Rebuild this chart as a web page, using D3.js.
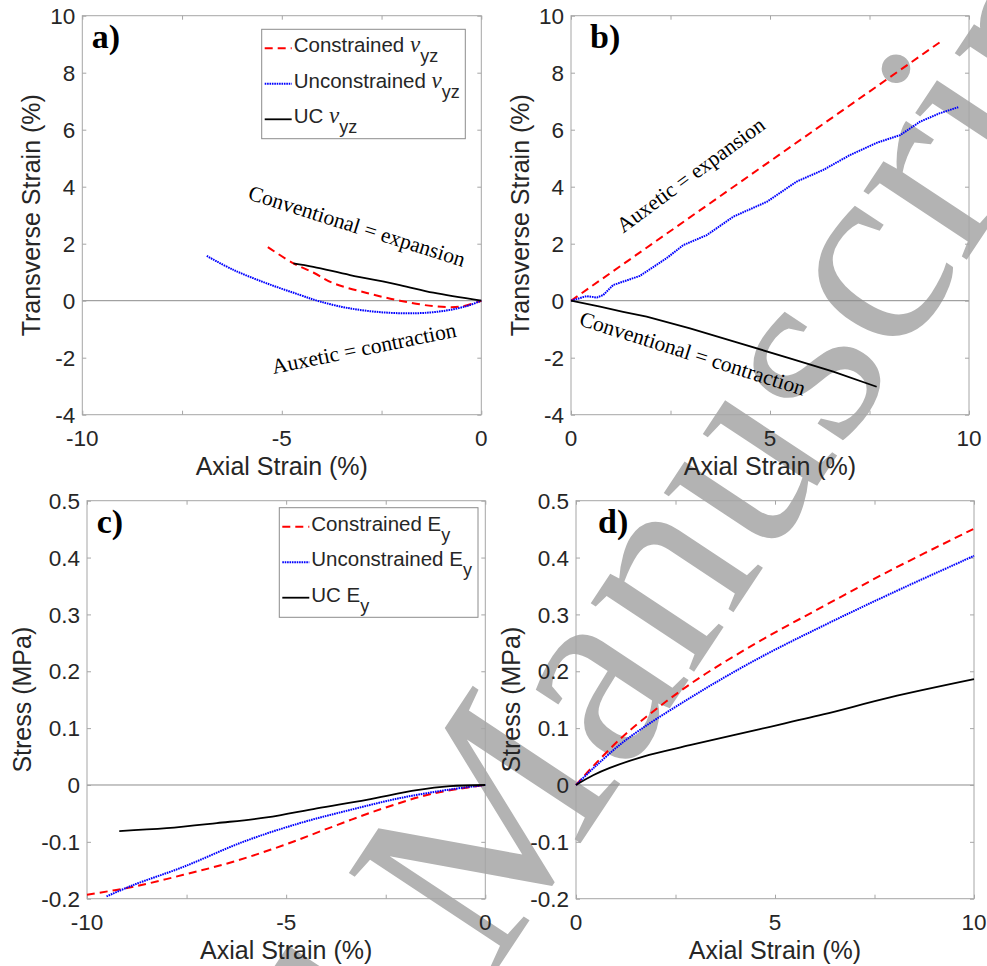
<!DOCTYPE html>
<html>
<head>
<meta charset="utf-8">
<script src="https://cdn.jsdelivr.net/npm/d3@7"></script>
<style>
body { margin: 0; background: #fff; }
svg { display: block; }
</style>
</head>
<body>
<svg id="fig" width="987" height="966"></svg>
<script>
// ---- data: [axial strain %, transverse strain % or stress MPa]
var nuCompCon = [[-5.35,1.88],[-4.72,1.32],[-4.2,0.98],[-3.72,0.62],[-2.87,0.27],[-2.04,0.0],[-1.2,-0.19],[-0.53,-0.21],[0,0]];
var nuCompUnc = [[-6.88,1.57],[-6.21,1.08],[-5.38,0.61],[-4.54,0.2],[-4.04,-0.03],[-3.29,-0.27],[-2.46,-0.41],[-1.62,-0.44],[-0.95,-0.36],[-0.37,-0.19],[0,0]];
var nuCompUC  = [[-4.71,1.31],[-4.21,1.19],[-3.29,0.9],[-2.04,0.55],[-1.2,0.28],[0,0]];

var nuTensCon = [[0,0],[9.35,9.15]];
var nuTensUnc = [[0,0],[0.39,0.16],[0.65,0.11],[0.81,0.2],[1.06,0.55],[1.73,0.87],[2.4,1.49],[2.82,1.95],[3.41,2.3],[4.08,2.95],[4.92,3.47],[5.67,4.18],[6.34,4.59],[7.01,5.11],[7.68,5.54],[8.27,5.81],[8.77,6.28],[9.27,6.58],[9.73,6.79]];
var nuTensUC  = [[0,0],[0.73,-0.21],[1.31,-0.39],[1.9,-0.56],[2.99,-0.97],[4.25,-1.5],[5.5,-2.02],[6.59,-2.49],[7.68,-3.02]];

var eCompCon = [[-10,-0.193],[-8.84,-0.179],[-7.58,-0.158],[-6.33,-0.135],[-5.07,-0.106],[-3.82,-0.073],[-2.56,-0.041],[-1.31,-0.015],[0,0]];
var eCompUnc = [[-9.51,-0.196],[-8.84,-0.176],[-7.58,-0.144],[-6.08,-0.1],[-4.65,-0.067],[-3.4,-0.044],[-2.14,-0.023],[-0.89,-0.008],[0,0]];
var eCompUC  = [[-9.19,-0.081],[-8.0,-0.076],[-6.74,-0.067],[-5.49,-0.057],[-4.23,-0.041],[-2.98,-0.026],[-1.72,-0.009],[-0.89,-0.002],[0,0]];

var eTensCon = [[0,0],[0.43,0.033],[1.27,0.091],[2.86,0.177],[4.54,0.25],[6.21,0.314],[7.89,0.377],[9.98,0.45]];
var eTensUnc = [[0,0],[0.43,0.029],[1.27,0.08],[2.86,0.153],[4.54,0.221],[6.21,0.28],[7.89,0.336],[10,0.403]];
var eTensUC  = [[0,0],[0.43,0.017],[0.85,0.03],[1.69,0.05],[2.86,0.07],[4.54,0.097],[6.21,0.124],[7.89,0.154],[10,0.186]];

var xTicksNeg = [-10, -7.5, -5, -2.5, 0];
var xTicksPos = [0, 2.5, 5, 7.5, 10];
var xLabelsNeg = [-10, -5, 0];
var xLabelsPos = [0, 5, 10];
var yTicksNu = [-4, -2, 0, 2, 4, 6, 8, 10];
var yTicksE = [-0.2, -0.1, 0, 0.1, 0.2, 0.3, 0.4, 0.5];

var seriesNames = ["Constrained", "Unconstrained", "UC"];

var FONT_SANS = "Arial, 'Liberation Sans', Helvetica, sans-serif";
var FONT_SERIF = "'Times New Roman', 'Liberation Serif', serif";
var TXT = "#262626";

var STYLES = [
    { color: "#ff0000", width: 2, dash: "8,5" },
    { color: "#0000ff", width: 2, dash: "1.6,0.8" },
    { color: "#000000", width: 1.8, dash: null }
];

var svg = d3.select("#fig");

function drawWatermark() {
    // big grey "Accepted Manuscript" stamp running up to the right
    var fs = 270;
    var g = svg.append("g")
        .attr("transform", "translate(492,977) rotate(-56.5)")
        .style("font-family", FONT_SERIF)
        .style("font-size", fs + "px")
        .attr("fill", "#b3b3b3");
    g.append("text").attr("x", 0).attr("y", 0).text("Manuscript");
    g.append("text").attr("x", -0.25 * fs).attr("y", 0)
        .attr("text-anchor", "end").text("Accepted");
}

function drawPanel(p) {
    var x = d3.scaleLinear().domain(p.xDomain).range([p.left, p.right]);
    var y = d3.scaleLinear().domain(p.yDomain).range([p.bottom, p.top]);
    var g = svg.append("g");

    // zero line
    g.append("line")
        .attr("x1", p.left).attr("x2", p.right)
        .attr("y1", y(0)).attr("y2", y(0))
        .attr("stroke", "#8c8c8c").attr("stroke-width", 1);

    // inward ticks on all four sides, matlab style box
    var tl = 4;
    var axes = [
        d3.axisBottom(x).tickValues(p.xTicks).tickSize(tl).tickFormat(""),
        d3.axisTop(x).tickValues(p.xTicks).tickSize(tl).tickFormat(""),
        d3.axisLeft(y).tickValues(p.yTicks).tickSize(tl).tickFormat(""),
        d3.axisRight(y).tickValues(p.yTicks).tickSize(tl).tickFormat("")
    ];
    var shifts = ["translate(0," + p.bottom + ")", "translate(0," + p.top + ")",
                  "translate(" + p.left + ",0)", "translate(" + p.right + ",0)"];
    var flips = [-1, 1, 1, -1];
    axes.forEach(function(ax, i) {
        var a = g.append("g").attr("transform", shifts[i]).call(ax);
        a.select(".domain").remove();
        a.selectAll(".tick line")
            .attr("stroke", "#a6a6a6")
            .attr(i < 2 ? "y2" : "x2", flips[i] * tl);
    });

    g.append("rect")
        .attr("x", p.left).attr("y", p.top)
        .attr("width", p.right - p.left).attr("height", p.bottom - p.top)
        .attr("fill", "none").attr("stroke", "#a6a6a6").attr("stroke-width", 1);

    // tick labels
    g.selectAll(".xl").data(p.xLabels).enter().append("text")
        .attr("x", function(d) { return x(d); })
        .attr("y", p.bottom + 31)
        .attr("text-anchor", "middle")
        .style("font", "22.5px " + FONT_SANS).attr("fill", TXT)
        .text(function(d) { return d; });
    g.selectAll(".yl").data(p.yTicks).enter().append("text")
        .attr("x", p.left - 7)
        .attr("y", function(d) { return y(d); })
        .attr("dy", "0.36em")
        .attr("text-anchor", "end")
        .style("font", "22.5px " + FONT_SANS).attr("fill", TXT)
        .text(function(d) { return d; });

    // axis labels
    g.append("text")
        .attr("x", (p.left + p.right) / 2)
        .attr("y", p.bottom + 60)
        .attr("text-anchor", "middle")
        .style("font", "25px " + FONT_SANS).attr("fill", TXT)
        .text("Axial Strain (%)");
    g.append("text")
        .attr("transform", "translate(" + (p.left - p.yLabelGap) + "," + ((p.top + p.bottom) / 2) + ") rotate(-90)")
        .attr("text-anchor", "middle")
        .style("font", "25px " + FONT_SANS).attr("fill", TXT)
        .text(p.yLabel);

    // curves
    var line = d3.line()
        .curve(p.smooth ? d3.curveCatmullRom.alpha(0.5) : d3.curveLinear)
        .x(function(d) { return x(d[0]); })
        .y(function(d) { return y(d[1]); });
    p.series.forEach(function(s, i) {
        g.append("path")
            .attr("d", line(s))
            .attr("fill", "none")
            .attr("stroke", STYLES[i].color)
            .attr("stroke-width", STYLES[i].width)
            .attr("stroke-dasharray", STYLES[i].dash);
    });

    // annotations
    p.notes.forEach(function(n) {
        g.append("text")
            .attr("transform", "translate(" + x(n.at[0]) + "," + y(n.at[1]) + ") rotate(" + n.angle + ")")
            .style("font", "21.5px " + FONT_SERIF).attr("fill", "#000")
            .text(n.text);
    });

    // panel letter
    g.append("text")
        .attr("x", p.left + p.tagDx).attr("y", p.top + 32.5)
        .style("font", "bold 34px " + FONT_SERIF).attr("fill", "#000")
        .text(p.tag);

    if (p.legend) addLegend(g, p);
}

function addLegend(g, p) {
    var L = p.legend;
    g.append("rect")
        .attr("x", L.x).attr("y", L.y).attr("width", L.w).attr("height", L.h)
        .attr("fill", "#fff").attr("stroke", "#8c8c8c").attr("stroke-width", 1);
    seriesNames.forEach(function(name, i) {
        var cy = L.y + 19 + i * 35.5;
        g.append("line")
            .attr("x1", L.x + 3).attr("x2", L.x + 30)
            .attr("y1", cy).attr("y2", cy)
            .attr("stroke", STYLES[i].color)
            .attr("stroke-width", STYLES[i].width)
            .attr("stroke-dasharray", STYLES[i].dash);
        var t = g.append("text")
            .attr("x", L.x + 32).attr("y", cy + 4)
            .style("font", "20.5px " + FONT_SANS).attr("fill", TXT);
        t.append("tspan").text(name + " ");
        if (L.symbol === "nu") {
            t.append("tspan").style("font-family", FONT_SERIF).style("font-style", "italic")
                .style("font-size", "23px").text("\u03bd");
            t.append("tspan").attr("dy", 10).style("font-size", "18px").text("yz");
        } else {
            t.append("tspan").text("E");
            t.append("tspan").attr("dy", 10).style("font-size", "18px").text("y");
        }
    });
}

var panels = [
    { tag: "a)", tagDx: 9.5, left: 82.3, right: 481.3, top: 15.7, bottom: 414.7,
      xDomain: [-10, 0], yDomain: [-4, 10], xTicks: xTicksNeg, xLabels: xLabelsNeg, yTicks: yTicksNu,
      yLabel: "Transverse Strain (%)", yLabelGap: 42, smooth: true,
      series: [nuCompCon, nuCompUnc, nuCompUC],
      notes: [{ text: "Conventional = expansion", at: [-5.87, 3.57], angle: 17.5 },
              { text: "Auxetic = contraction", at: [-5.21, -2.57], angle: -11.5 }],
      legend: { x: 261.7, y: 29.3, w: 203.6, h: 109.4, symbol: "nu" } },
    { tag: "b)", tagDx: 19, left: 571, right: 969, top: 15.7, bottom: 414.7,
      xDomain: [0, 10], yDomain: [-4, 10], xTicks: xTicksPos, xLabels: xLabelsPos, yTicks: yTicksNu,
      yLabel: "Transverse Strain (%)", yLabelGap: 42, smooth: false,
      series: [nuTensCon, nuTensUnc, nuTensUC],
      notes: [{ text: "Auxetic = expansion", at: [1.31, 2.36], angle: -36.3 },
              { text: "Conventional = contraction", at: [0.18, -0.85], angle: 17.5 }],
      legend: null },
    { tag: "c)", tagDx: 9.7, left: 87, right: 485.3, top: 500.7, bottom: 898.7,
      xDomain: [-10, 0], yDomain: [-0.2, 0.5], xTicks: xTicksNeg, xLabels: xLabelsNeg, yTicks: yTicksE,
      yLabel: "Stress (MPa)", yLabelGap: 56, smooth: true,
      series: [eCompCon, eCompUnc, eCompUC],
      notes: [],
      legend: { x: 279.3, y: 507.7, w: 198.7, h: 109.6, symbol: "E" } },
    { tag: "d)", tagDx: 22, left: 576, right: 974, top: 500.7, bottom: 898.7,
      xDomain: [0, 10], yDomain: [-0.2, 0.5], xTicks: xTicksPos, xLabels: xLabelsPos, yTicks: yTicksE,
      yLabel: "Stress (MPa)", yLabelGap: 56, smooth: true,
      series: [eTensCon, eTensUnc, eTensUC],
      notes: [],
      legend: null }
];

drawWatermark();
panels.forEach(drawPanel);
</script>
</body>
</html>
